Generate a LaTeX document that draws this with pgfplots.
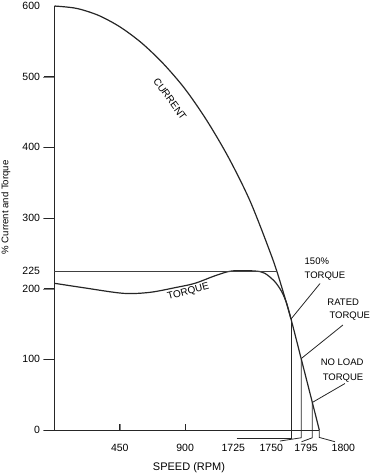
\documentclass[border=0pt]{standalone}
\usepackage{fontspec}
\setmainfont{Liberation Sans}
\usepackage{pgfplots}
\pgfplotsset{compat=1.18}
\begin{document}
\begin{tikzpicture}
\path[use as bounding box] (-54.5pt,-45pt) rectangle (321.5pt,430pt);
% helper axis: x tick labels 450/900 and y labels 225/600
\begin{axis}[
  scale only axis, width=264.8pt, height=424pt,
  xmin=0, xmax=1825, ymin=0, ymax=600,
  axis x line=bottom, axis y line=left,
  axis line style={draw=none},
  xtick={450,900}, ytick={225,600},
  xtick align=inside, ytick align=inside,
  major tick length=6pt,
  /pgf/number format/assume math mode=true,
  tick label style={font=\fontsize{10.5}{12}\selectfont},
  xticklabel style={yshift=-10.5pt},
  yticklabel style={xshift=-11pt},
]
\end{axis}
\begin{axis}[
  scale only axis, width=264.8pt, height=424pt,
  xmin=0, xmax=1825, ymin=0, ymax=600,
  clip=false,
  axis x line=bottom, axis y line=left,
  axis line style={-, line width=1pt, color=black!85},
  xtick=\empty,
  ytick={0,100,200,300,400,500},
  ytick align=outside,
  major tick length=11pt,
  /pgf/number format/assume math mode=true,
  tick label style={font=\fontsize{10.5}{12}\selectfont},
  xlabel={SPEED (RPM)},
  xlabel style={font=\fontsize{11}{13}\selectfont, at={(axis description cs:0.508,-0.0896)}, anchor=center},
  ylabel={\% Current and Torque},
  ylabel style={font=\fontsize{9.6}{11}\selectfont, at={(axis description cs:-0.1832,0.525)}, anchor=center},
]
% tick marks (y: outward 11pt, x: inward 6pt)
\addplot[line width=1pt, black!85] coordinates {(-75.8,0) (0,0)};
\addplot[line width=1pt, black!85] coordinates {(-75.8,100) (0,100)};
\addplot[line width=1pt, black!85] coordinates {(-75.8,200) (0,200)};
\addplot[line width=1pt, black!85] coordinates {(-75.8,300) (0,300)};
\addplot[line width=1pt, black!85] coordinates {(-75.8,400) (0,400)};
\addplot[line width=1pt, black!85] coordinates {(-75.8,500) (0,500)};
\addplot[line width=1pt, black!85] coordinates {(450,0) (450,8.5)};
\addplot[line width=1pt, black!85] coordinates {(900,0) (900,8.5)};
% current
\addplot[line width=1.2pt, black!85, smooth, tension=0.5] coordinates {
(0,600) (150,596.7) (300,587) (450,570.6) (600,547.8) (750,518.4) (900,482.5)
(1050,437.9) (1200,385.4) (1350,323) (1500,244) (1565,203) (1630,157)
(1700,101) (1777,39) (1825,0)};
% torque
\addplot[line width=1.2pt, black!85, smooth, tension=0.5] coordinates {
(0,207.6) (198,201.4) (474,193.4) (658,194.8) (842,201.9) (968,207.6)
(1107,218.3) (1221,225) (1381,225) (1450,221.7) (1519,209.8)
(1566,195.7) (1600,179.3) (1630,157)};
% 225 line
\addplot[line width=0.6pt, black!75] coordinates {(0,225) (1531,225)};
% vertical lines and leaders
\addplot[line width=0.8pt, black!85] coordinates {(1256,-11.5) (1630,-11.5) (1630,157)};
\addplot[line width=0.8pt, black!85] coordinates {(1554,-15.6) (1700,-11) (1700,101)};
\addplot[line width=0.8pt, black!85] coordinates {(1703,-16.6) (1777,-11) (1777,39)};
\addplot[line width=0.8pt, black!85] coordinates {(1825,0) (1825,-10.5) (1933,-16.6)};
% pointers
\addplot[line width=0.8pt, black!85] coordinates {(1630,157) (1830,207.3)};
\addplot[line width=0.8pt, black!85] coordinates {(1700,101) (1988,148.6)};
\addplot[line width=0.8pt, black!85] coordinates {(1777,39) (2002,65.8)};
% x labels off the ticks
\node[anchor=base, font=\fontsize{10.5}{12}\selectfont] at (axis cs:1232,-30.6) {1725};
\node[anchor=base, font=\fontsize{10.5}{12}\selectfont] at (axis cs:1494,-30.6) {1750};
\node[anchor=base, font=\fontsize{10.5}{12}\selectfont] at (axis cs:1734,-30.6) {1795};
\node[anchor=base, font=\fontsize{10.5}{12}\selectfont] at (axis cs:1991,-30.6) {1800};
% curve labels
\node[font=\fontsize{10}{12}\selectfont, rotate=-54] at (axis cs:796,468.4) {CURRENT};
\node[font=\fontsize{10}{12}\selectfont, rotate=15] at (axis cs:922,195.8) {TORQUE};
% annotations
\node[anchor=base west, inner sep=0pt, font=\fontsize{9.5}{11}\selectfont] at (axis cs:1723,233.5) {150\%};
\node[anchor=base west, inner sep=0pt, font=\fontsize{9.5}{11}\selectfont] at (axis cs:1723,214.4) {TORQUE};
\node[anchor=base west, inner sep=0pt, font=\fontsize{9.5}{11}\selectfont] at (axis cs:1880,176.5) {RATED};
\node[anchor=base west, inner sep=0pt, font=\fontsize{9.5}{11}\selectfont] at (axis cs:1894,157.4) {TORQUE};
\node[anchor=base west, inner sep=0pt, font=\fontsize{9.5}{11}\selectfont] at (axis cs:1834,90.6) {NO LOAD};
\node[anchor=base west, inner sep=0pt, font=\fontsize{9.5}{11}\selectfont] at (axis cs:1848,70.3) {TORQUE};
\end{axis}
\end{tikzpicture}
\end{document}
